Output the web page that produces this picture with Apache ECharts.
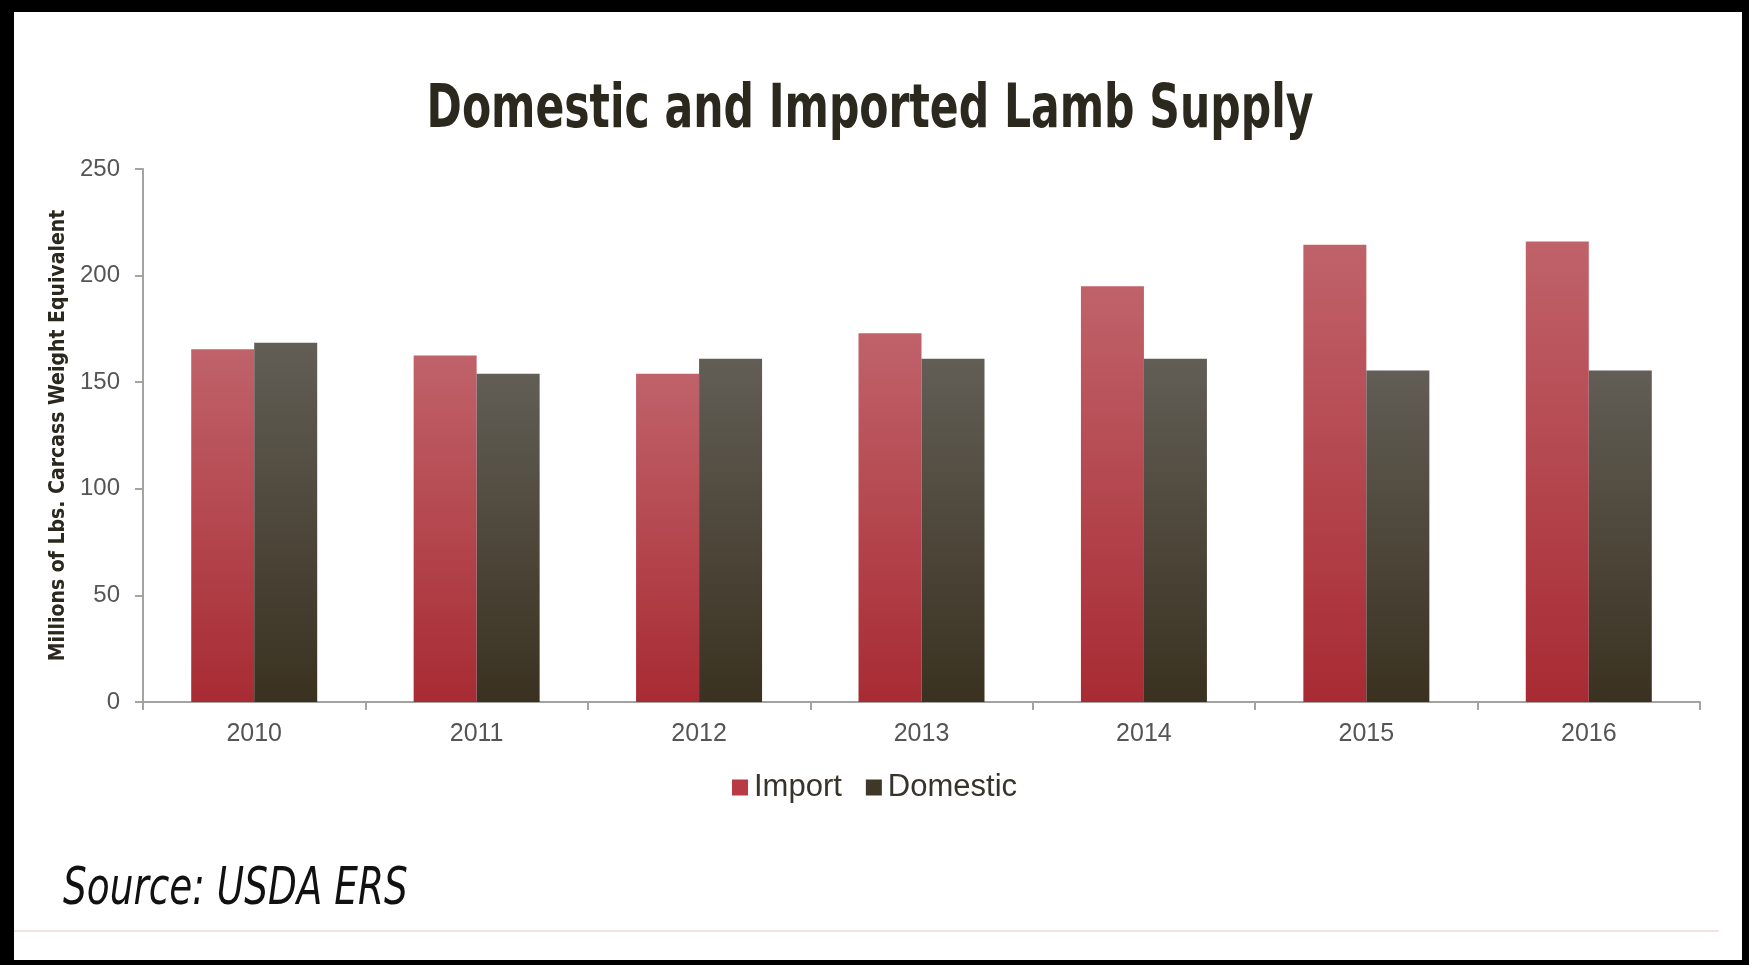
<!DOCTYPE html>
<html>
<head>
<meta charset="utf-8">
<style>
  html, body { margin: 0; padding: 0; background: #ffffff; }
  #chart { width: 1749px; height: 965px; }
</style>
<script src="https://cdn.jsdelivr.net/npm/echarts@6/dist/echarts.min.js"></script>
</head>
<body>
<div id="chart"></div>
<script>
// Lamb supply, millions of lbs. carcass weight equivalent
const years = ['2010', '2011', '2012', '2013', '2014', '2015', '2016'];
const importSupply = [165.5, 162.5, 154, 173, 195, 214.5, 216];
const domesticSupply = [168.5, 154, 161, 161, 161, 155.5, 155.5];
const yTicks = { min: 0, max: 250, step: 50 };

const chart = echarts.init(document.getElementById('chart'), null, { renderer: 'canvas' });

const sansFont = "'Liberation Sans', Arial, Helvetica, sans-serif";
const narrowFont = "'DejaVu Sans Condensed', 'Liberation Sans', sans-serif";

function barGradient(top, bottom) {
  return new echarts.graphic.LinearGradient(0, 0, 0, 1, [
    { offset: 0, color: top },
    { offset: 1, color: bottom }
  ]);
}

const option = {
  backgroundColor: '#ffffff',
  animation: false,
  legend: {
    left: 727,
    top: 767,
    icon: 'rect',
    itemWidth: 16,
    itemHeight: 16,
    itemGap: 24,
    textStyle: {
      fontFamily: sansFont,
      fontSize: 31,
      color: '#38342c',
      padding: [0, 0, 0, 1]
    },
    data: [
      { name: 'Import', itemStyle: { color: '#b73a44' } },
      { name: 'Domestic', itemStyle: { color: '#3f3829' } }
    ]
  },
  grid: {
    left: 143,
    right: 49,
    top: 169,
    bottom: 263,
    containLabel: false
  },
  xAxis: {
    type: 'category',
    data: years,
    axisLine: { show: true, lineStyle: { color: '#a3a3a0', width: 2 } },
    axisTick: { show: true, alignWithLabel: false, length: 8, lineStyle: { color: '#a3a3a0', width: 2 } },
    axisLabel: {
      margin: 20,
      fontFamily: sansFont,
      fontSize: 25,
      color: '#555555'
    },
    splitLine: { show: false }
  },
  yAxis: {
    type: 'value',
    min: yTicks.min,
    max: yTicks.max,
    interval: yTicks.step,
    name: 'Millions of Lbs. Carcass Weight Equivalent',
    nameLocation: 'middle',
    nameGap: 62,
    nameTextStyle: {
      fontFamily: narrowFont,
      fontWeight: 'bold',
      fontSize: 21,
      color: '#2b281e'
    },
    axisLine: { show: true, lineStyle: { color: '#a3a3a0', width: 2 } },
    axisTick: { show: true, length: 8, lineStyle: { color: '#a3a3a0', width: 2 } },
    axisLabel: {
      margin: 23,
      fontFamily: sansFont,
      fontSize: 24,
      color: '#555555'
    },
    splitLine: { show: false }
  },
  series: [
    {
      name: 'Import',
      type: 'bar',
      data: importSupply,
      barWidth: 63,
      barGap: '0%',
      itemStyle: { color: barGradient('#c0626a', '#a82b33') }
    },
    {
      name: 'Domestic',
      type: 'bar',
      data: domesticSupply,
      barWidth: 63,
      itemStyle: { color: barGradient('#625e56', '#3a3120') }
    }
  ],
  graphic: [
    // page frame
    { type: 'rect', left: 0, top: 0, shape: { width: 1749, height: 12 }, style: { fill: '#000000' }, silent: true },
    { type: 'rect', left: 0, top: 0, shape: { width: 14, height: 965 }, style: { fill: '#000000' }, silent: true },
    { type: 'rect', left: 1742, top: 0, shape: { width: 7, height: 965 }, style: { fill: '#000000' }, silent: true },
    { type: 'rect', left: 0, top: 960, shape: { width: 1749, height: 5 }, style: { fill: '#000000' }, silent: true },
    // divider under the source note
    { type: 'rect', left: 14, top: 930, shape: { width: 1705, height: 2 }, style: { fill: '#f2e2e2' }, silent: true },
    // condensed headline
    {
      type: 'text',
      x: 870,
      y: 111,
      scaleX: 0.775,
      silent: true,
      style: {
        text: 'Domestic and Imported Lamb Supply',
        fontFamily: narrowFont,
        fontWeight: 'bold',
        fontSize: 61,
        fill: '#2b281e',
        align: 'center',
        verticalAlign: 'middle'
      }
    },
    {
      type: 'text',
      x: 63,
      y: 890,
      scaleX: 0.8,
      silent: true,
      style: {
        text: 'Source: USDA ERS',
        fontFamily: narrowFont,
        fontStyle: 'italic',
        fontSize: 52,
        fill: '#111111',
        align: 'left',
        verticalAlign: 'middle'
      }
    }
  ]
};

chart.setOption(option);
</script>
</body>
</html>
